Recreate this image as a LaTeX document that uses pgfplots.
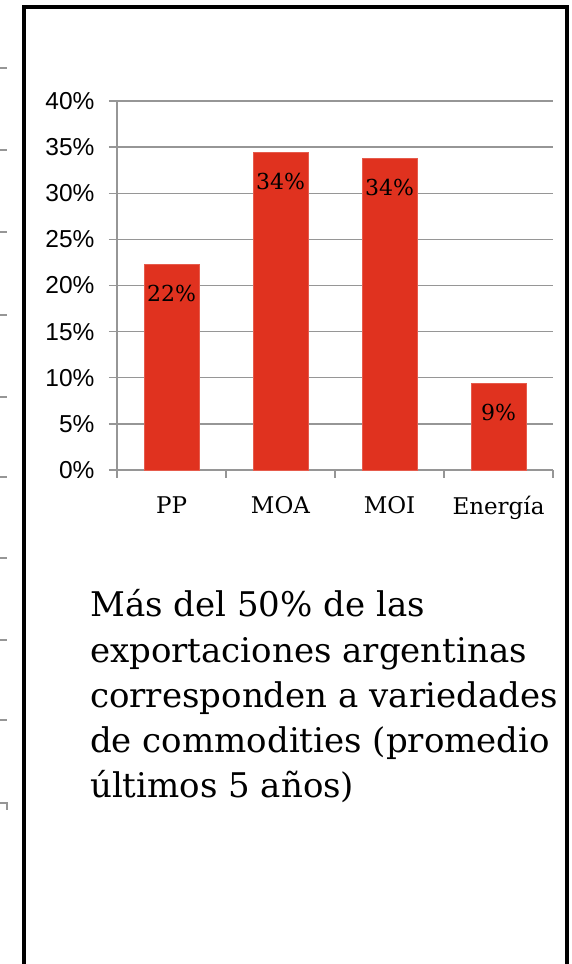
\documentclass[border=0pt]{standalone}
\usepackage{pgfplots}
\pgfplotsset{compat=1.18}
\usepackage{fontspec}
\setmainfont{DejaVu Serif}
\newfontfamily\arialf{Liberation Sans}
\definecolor{barred}{RGB}{224,50,31}
\definecolor{gridgray}{RGB}{150,150,150}
\pgfplotstableread{
idx val
0 22.3
1 34.4
2 33.8
3 9.4
}\sharedata
\begin{document}
\begin{tikzpicture}
\begin{scope}[x=1pt,y=1pt]
\useasboundingbox (0,0) rectangle (572,964);
\draw[line width=4pt] (24,-10) -- (24,957) -- (567,957) -- (567,-10);
\foreach \yy in {68,150,232,315,397,477,558,640,720}
  \draw[gridgray,line width=1.2pt] (0,964-\yy) -- (7,964-\yy);
\draw[gridgray,line width=1.2pt] (0,964-803) -- (7,964-803) -- (7,964-810);
\begin{scope}[every node/.style={anchor=base west,inner sep=0pt,font=\fontsize{34}{46}\selectfont}]
\node at (90,964-617) {Más del 50\% de las};
\node at (90,964-663) {exportaciones argentinas};
\node at (90,964-708) {corresponden a variedades};
\node at (90,964-753) {de commodities (promedio};
\node at (90,964-798) {últimos 5 años)};
\end{scope}
\end{scope}
\begin{axis}[
  at={(117pt,494pt)}, anchor=south west,
  scale only axis, width=436pt, height=369pt,
  xmin=-0.5, xmax=3.5, ymin=0, ymax=40,
  ytick={0,5,...,40},
  yticklabel={\pgfmathprintnumber{\tick}\%},
  yticklabel style={font=\arialf\fontsize{24.5}{24.5}\selectfont, xshift=-11pt},
  /pgf/number format/assume math mode=true,
  xtick={-0.5,0.5,1.5,2.5,3.5}, xticklabels={},
  extra x ticks={0,1,2,3},
  extra x tick labels={PP,MOA,MOI,Energía},
  extra x tick style={major tick length=0pt,
     tick label style={font=\fontsize{23}{23}\selectfont, yshift=-23pt}},
  axis lines*=left,
  axis line style={gridgray,line width=1.3pt},
  tick style={gridgray,line width=1.3pt},
  tick align=outside, major tick length=8pt,
  ymajorgrids, grid style={gridgray,line width=1.3pt},
  clip=false,
]
\addplot[ybar, bar width=55pt, fill=barred, draw=barred!80!white, line width=0.6pt,
  nodes near coords={\pgfmathprintnumber[fixed,precision=0]{\pgfplotspointmeta}\%},
  nodes near coords align={below},
  every node near coord/.append style={font=\fontsize{22}{22}\selectfont, black, yshift=-17pt},
] table[x=idx,y=val] {\sharedata};
\end{axis}
\end{tikzpicture}
\end{document}
